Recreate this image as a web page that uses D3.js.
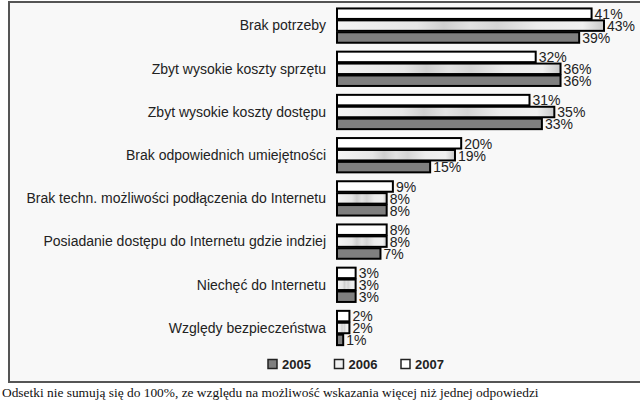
<!DOCTYPE html>
<html><head><meta charset="utf-8">
<script src="https://cdn.jsdelivr.net/npm/d3@7"></script>
<style>body{margin:0;background:#fff}svg{display:block}</style>
</head><body>
<svg id="c" width="640" height="405"></svg>
<script>
const categories = ["Brak potrzeby","Zbyt wysokie koszty sprzętu","Zbyt wysokie koszty dostępu","Brak odpowiednich umiejętności","Brak techn. możliwości podłączenia do Internetu","Posiadanie dostępu do Internetu gdzie indziej","Niechęć do Internetu","Względy bezpieczeństwa"];
const years = ["2007","2006","2005"];
const legendYears = ["2005","2006","2007"];
const v2007 = [41,32,31,20,9,8,3,2];
const v2006 = [43,36,35,19,8,8,3,2];
const v2005 = [39,36,33,15,8,7,3,1];
const footnote = "Odsetki nie sumują się do 100%, ze względu na możliwość wskazania więcej niż jednej odpowiedzi";

const series = {"2007": v2007, "2006": v2006, "2005": v2005};
const svg = d3.select("#c");
const defs = svg.append("defs");
const g6 = defs.append("linearGradient").attr("id","tex");
[[0,"#f4f4f4"],[0.3,"#e6e6e6"],[0.4,"#cfcfcf"],[0.5,"#e2e2e2"],[0.6,"#d4d4d4"],[0.75,"#ececec"],[0.92,"#f0f0f0"],[1,"#c8c8c8"]]
  .forEach(([o,c])=>g6.append("stop").attr("offset",o).attr("stop-color",c));
const fills = {"2007":"#ffffff","2006":"url(#tex)","2005":"#7f7f7f"};

// frame
svg.append("rect").attr("x",9).attr("y",2).attr("width",640).attr("height",380)
  .attr("fill","#f8f8f8").attr("stroke","#555").attr("stroke-width",2);

const x = d3.scaleLinear().domain([0,43]).range([337,604]);
const y0 = d3.scaleBand().domain(categories).range([4,349.6]).paddingInner(0.14).paddingOuter(0.07);
const y1 = d3.scaleBand().domain(years).range([0,y0.bandwidth()]).padding(0.12);

const grp = svg.append("g").selectAll("g").data(categories).join("g")
  .attr("transform",d=>`translate(0,${y0(d)})`);

grp.append("text").attr("x",326).attr("y",y0.bandwidth()/2).attr("dy","0.35em")
  .attr("text-anchor","end").attr("font-family","Liberation Sans, Arial, sans-serif")
  .attr("font-size",14).attr("fill","#222").text(d=>d);

categories.forEach((c,i)=>{
  const gg = grp.filter(d=>d===c);
  years.forEach(yr=>{
    const val = series[yr][i];
    gg.append("rect").attr("x",x(0)).attr("y",y1(yr)).attr("width",x(val)-x(0)).attr("height",y1.bandwidth())
      .attr("fill",fills[yr]).attr("stroke","#000").attr("stroke-width",2);
    gg.append("text").attr("x",x(val)+3).attr("y",y1(yr)+y1.bandwidth()/2).attr("dy","0.38em")
      .attr("font-family","Liberation Sans, Arial, sans-serif").attr("font-size",14).attr("fill","#222")
      .text(val+"%");
  });
});

// legend
const lx = d3.scalePoint().domain(legendYears).range([268,401]);
const lg = svg.append("g").selectAll("g").data(legendYears).join("g")
  .attr("transform",d=>`translate(${lx(d)},364)`);
lg.append("rect").attr("x",0).attr("y",-4.5).attr("width",9).attr("height",9)
  .attr("fill",d=>d==="2005"?"#7f7f7f":(d==="2006"?"#f0f0f0":"#fff")).attr("stroke","#222").attr("stroke-width",1.5);
lg.append("text").attr("x",14).attr("dy","0.36em").attr("font-family","Liberation Sans, Arial, sans-serif")
  .attr("font-size",13).attr("font-weight","bold").attr("fill","#222").text(d=>d);

svg.append("text").attr("x",2).attr("y",397).attr("font-family","Liberation Serif, Times New Roman, serif")
  .attr("font-size",13.4).attr("fill","#111").text(footnote);
</script>
</body></html>
